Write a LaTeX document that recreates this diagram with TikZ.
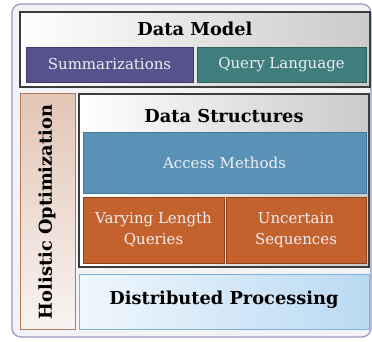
\documentclass[tikz,border=0pt]{standalone}
\usepackage{fontspec}
\setmainfont{DejaVu Serif}
\definecolor{outerline}{HTML}{9A98C4}
\definecolor{outerfill}{HTML}{F2F2F7}
\definecolor{frameline}{HTML}{3C3C3C}
\definecolor{framegray}{HTML}{CACACA}
\definecolor{summfill}{HTML}{56528C}
\definecolor{summline}{HTML}{3E3B70}
\definecolor{queryfill}{HTML}{3F7E7C}
\definecolor{queryline}{HTML}{2E615F}
\definecolor{accessfill}{HTML}{5A91B7}
\definecolor{accessline}{HTML}{44789C}
\definecolor{orangefill}{HTML}{C4622D}
\definecolor{orangeline}{HTML}{8E431C}
\definecolor{holtop}{HTML}{E2C6B6}
\definecolor{holbottom}{HTML}{F8F3F1}
\definecolor{holline}{HTML}{B07A58}
\definecolor{distleft}{HTML}{F0F7FD}
\definecolor{distright}{HTML}{B9DAF2}
\definecolor{distline}{HTML}{7CB2D9}
\definecolor{lighttext}{HTML}{EEEEF4}
\tikzset{
  panel/.style={draw=frameline, line width=1.2pt, shading=axis, left color=white,
    right color=framegray, shading angle=90, inner sep=0pt},
  tile/.style={line width=0.8pt, text=lighttext, font=\fontsize{15}{21}\selectfont,
    align=center, inner sep=0pt},
  heading/.style={font=\bfseries\fontsize{17.8}{21}\selectfont, inner sep=0pt},
}
\begin{document}
\begin{tikzpicture}[x=1pt,y=-1pt]
\useasboundingbox (0,0) rectangle (372,342);
% outer frame
\node[draw=outerline, line width=1.2pt, fill=outerfill, rounded corners=9pt,
  minimum width=359pt, minimum height=333pt, inner sep=0pt] (outer) at (191.5,170.5) {};
% data model layer
\node[panel, minimum width=350pt, minimum height=75pt] (model) at (195,49.5) {};
\node[heading] (modeltitle) at (195,29) {Data Model};
\node[tile, fill=summfill, draw=summline, minimum width=167pt, minimum height=35pt]
  (summ) at (109.5,64.5) {Summarizations};
\node[tile, fill=queryfill, draw=queryline, minimum width=169pt, minimum height=35pt]
  (query) at (281.5,64.5) {Query Language};
% holistic optimization column
\node[draw=holline, line width=1pt, top color=holtop, bottom color=holbottom,
  minimum width=55pt, minimum height=235pt, inner sep=0pt] (holistic) at (47.5,211.5) {};
\node[heading, rotate=90] (holtitle) at (47,212) {Holistic Optimization};
% data structures layer
\node[panel, minimum width=290pt, minimum height=173pt] (structs) at (224,180.5) {};
\node[heading] (structtitle) at (224,116) {Data Structures};
\node[tile, fill=accessfill, draw=accessline, minimum width=283pt, minimum height=61pt]
  (access) at (224.5,162.5) {Access Methods};
\node[tile, fill=orangefill, draw=orangeline, minimum width=141pt, minimum height=66pt]
  (varying) at (153.5,230) {Varying Length\\Queries};
\node[tile, fill=orangefill, draw=orangeline, minimum width=140pt, minimum height=66pt]
  (uncertain) at (296,230) {Uncertain\\Sequences};
% distributed processing layer
\node[draw=distline, line width=1pt, shading=axis, left color=distleft, right color=distright,
  minimum width=290pt, minimum height=55pt, inner sep=0pt] (dist) at (224,301.5) {};
\node[heading] (disttitle) at (224,300) {Distributed Processing};
\end{tikzpicture}
\end{document}
